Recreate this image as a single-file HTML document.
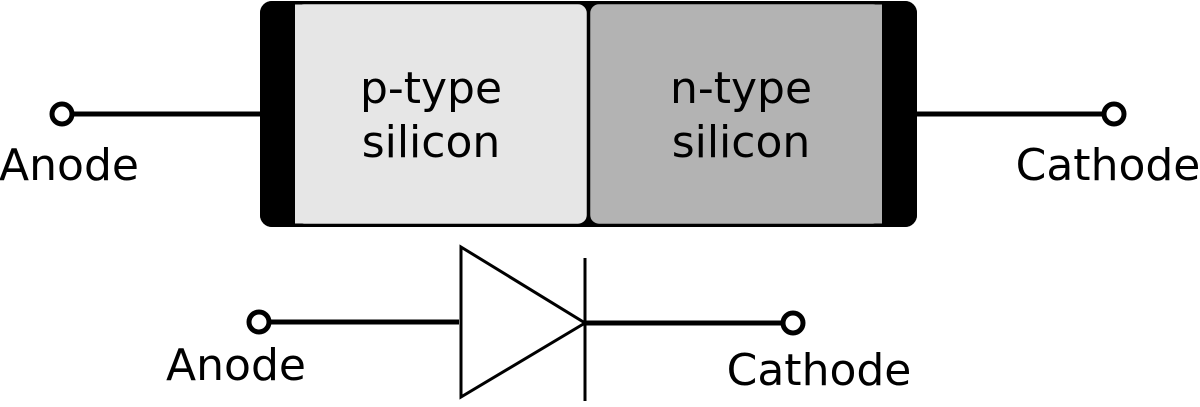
<!DOCTYPE html>
<html><head><style>body{margin:0;background:#fff}</style></head><body>
<svg width="1200" height="402" viewBox="0 0 1200 402" xmlns="http://www.w3.org/2000/svg" font-family="DejaVu Sans, Liberation Sans, sans-serif" font-size="44">
<rect x="0" y="0" width="1200" height="402" fill="#fff"/>
<rect x="260" y="1" width="657" height="226" rx="12" fill="#000"/>
<rect x="294" y="3" width="294" height="222" rx="10" fill="#e6e6e6" stroke="#000" stroke-width="2.5"/>
<rect x="293" y="4.5" width="20" height="219" fill="#e6e6e6"/>
<rect x="589" y="3" width="294" height="222" rx="10" fill="#b3b3b3" stroke="#000" stroke-width="2.5"/>
<rect x="864" y="4.5" width="20" height="219" fill="#b3b3b3"/>
<rect x="260" y="1" width="35" height="226" rx="12" fill="#000"/>
<rect x="280" y="1" width="15" height="226" fill="#000"/>
<rect x="882" y="1" width="35" height="226" rx="12" fill="#000"/>
<rect x="882" y="1" width="15" height="226" fill="#000"/>
<line x1="62" y1="114" x2="262" y2="114" stroke="#000" stroke-width="5"/>
<line x1="915" y1="114" x2="1114" y2="114" stroke="#000" stroke-width="5"/>
<circle cx="62" cy="114" r="10" fill="#fff" stroke="#000" stroke-width="5"/>
<circle cx="1114" cy="114" r="10" fill="#fff" stroke="#000" stroke-width="5"/>
<text x="431" y="103" text-anchor="middle">p-type</text>
<text x="431" y="157" text-anchor="middle">silicon</text>
<text x="741" y="103" text-anchor="middle">n-type</text>
<text x="741" y="157" text-anchor="middle">silicon</text>
<text x="69" y="180" text-anchor="middle">Anode</text>
<text x="1108" y="180" text-anchor="middle">Cathode</text>
<line x1="259" y1="322" x2="459" y2="322" stroke="#000" stroke-width="5"/>
<line x1="585" y1="323" x2="793" y2="323" stroke="#000" stroke-width="5"/>
<polygon points="461,247 461,397 585,323" fill="#fff" stroke="#000" stroke-width="3"/>
<line x1="585" y1="258" x2="585" y2="401" stroke="#000" stroke-width="3"/>
<circle cx="259" cy="322" r="10" fill="#fff" stroke="#000" stroke-width="5"/>
<circle cx="793" cy="323" r="10" fill="#fff" stroke="#000" stroke-width="5"/>
<text x="236" y="380" text-anchor="middle">Anode</text>
<text x="819" y="385" text-anchor="middle">Cathode</text>
</svg>
</body></html>
